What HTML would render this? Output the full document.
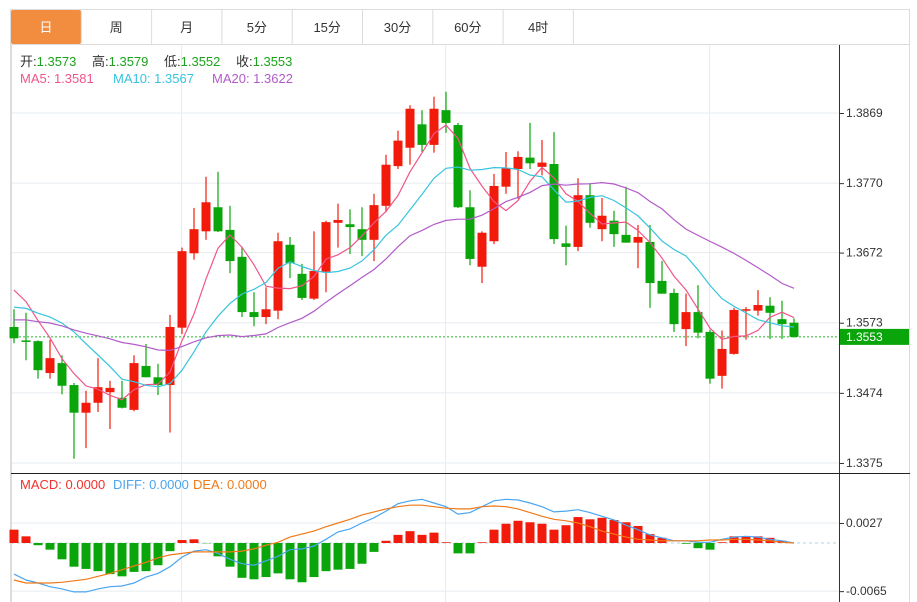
<!DOCTYPE html>
<html><head><meta charset="utf-8">
<style>
body{margin:0;background:#fff;font-family:"Liberation Sans","Noto Sans CJK SC",sans-serif;}
#wrap{position:relative;width:917px;height:602px;overflow:hidden;}
svg{position:absolute;left:0;top:0;}
</style></head><body>
<div id="wrap">
<svg id="s" width="917" height="602" xmlns="http://www.w3.org/2000/svg"></svg>
</div>
<script>
// ---- data ----
const tabs=["日","周","月","5分","15分","30分","60分","4时"];
const opens=[1.3567,1.3548,1.3547,1.3502,1.3516,1.3485,1.3446,1.3460,1.3475,1.3467,1.3450,1.3512,1.3496,1.3485,1.3566,1.3671,1.3702,1.3736,1.3704,1.3666,1.3588,1.3581,1.3590,1.3683,1.3642,1.3607,1.3645,1.3714,1.3712,1.3705,1.3690,1.3738,1.3794,1.3820,1.3853,1.3824,1.3873,1.3852,1.3736,1.3652,1.3688,1.3765,1.3790,1.3806,1.3793,1.3797,1.3685,1.3680,1.3753,1.3705,1.3717,1.3697,1.3686,1.3687,1.3632,1.3615,1.3564,1.3588,1.3560,1.3498,1.3529,1.3590,1.3590,1.3597,1.3578,1.3573];
const highs=[1.3592,1.3587,1.3548,1.3549,1.3527,1.3488,1.3477,1.3523,1.3491,1.3491,1.3527,1.3543,1.3515,1.3584,1.3679,1.3735,1.3779,1.3786,1.3738,1.3680,1.3616,1.3623,1.3700,1.3694,1.3656,1.3702,1.3717,1.3741,1.3733,1.3736,1.3755,1.3810,1.3844,1.3880,1.3873,1.3892,1.3899,1.3855,1.3760,1.3702,1.3783,1.3814,1.3815,1.3855,1.3831,1.3842,1.3710,1.3777,1.3770,1.3749,1.3731,1.3765,1.3711,1.3711,1.3660,1.3621,1.3614,1.3626,1.3563,1.3562,1.3594,1.3595,1.3619,1.3609,1.3604,1.3579];
const lows=[1.3544,1.3520,1.3494,1.3494,1.3472,1.3381,1.3396,1.3447,1.3423,1.3452,1.3448,1.3496,1.3471,1.3418,1.3557,1.3662,1.3690,1.3701,1.3643,1.3581,1.3568,1.3571,1.3578,1.3636,1.3605,1.3605,1.3616,1.3679,1.3670,1.3667,1.3660,1.3729,1.3790,1.3796,1.3814,1.3813,1.3841,1.3735,1.3654,1.3629,1.3684,1.3755,1.3748,1.3790,1.3781,1.3684,1.3654,1.3674,1.3707,1.3688,1.3680,1.3686,1.3650,1.3594,1.3614,1.3560,1.3540,1.3551,1.3487,1.3480,1.3528,1.3549,1.3583,1.3550,1.3550,1.3552];
const closes=[1.3551,1.3547,1.3506,1.3523,1.3484,1.3446,1.3460,1.3482,1.3481,1.3453,1.3516,1.3496,1.3485,1.3567,1.3674,1.3705,1.3743,1.3702,1.3660,1.3588,1.3581,1.3592,1.3688,1.3657,1.3608,1.3646,1.3715,1.3718,1.3708,1.3690,1.3739,1.3796,1.3830,1.3875,1.3824,1.3875,1.3855,1.3736,1.3663,1.3700,1.3766,1.3791,1.3807,1.3798,1.3799,1.3691,1.3680,1.3753,1.3714,1.3724,1.3698,1.3686,1.3694,1.3629,1.3614,1.3571,1.3588,1.3559,1.3494,1.3536,1.3591,1.3592,1.3598,1.3587,1.3571,1.3553];
const priorCloses=[1.3548,1.3555,1.3562,1.3566,1.3558,1.3552,1.3560,1.3563,1.3557,1.3569,1.3565,1.3574,1.3578,1.3568,1.3570,1.3628,1.3640,1.3645,1.3631];
const macdE4=[18,9,-3,-9,-22,-32,-35,-38,-42,-45,-39,-38,-30,-11,4,5,-0.4,-18,-32,-47,-49,-46,-41,-49,-53,-46,-38,-36,-35,-28,-12,3,11,16,11,14,1,-14,-14,1,18,26,30,28,26,18,24,35,32,34,31,28,23,12,7,0,-1,-7,-9,1,9,9,9,7,3,0];
const diffE4=[-42,-50,-54,-59,-62,-66,-66,-62,-59,-58,-54,-46,-41,-32,-19,-11,-9,-14,-22,-28,-30,-24,-18,-9,-8,-4,5,15,19,27,34,43,53,57,59,54,49,39,41,49,57,59,58,54,49,42,43,45,41,36,31,24,18,11,7,3,3,1,1,5,8,9,8,5,3,0];
const deaE4=[-50,-54,-54,-54,-53,-51,-49,-45,-41,-36,-31,-26,-20,-16,-14,-12,-12,-12,-12,-11,-8,-3,1,8,12,16,22,27,32,38,42,46,49,51,51,49,47,46,46,49,50,49,46,41,36,32,30,27,22,16,12,8,5,4,3,3,3,3,4,4,5,5,4,3,1,0];
const priceTicks=[1.3869,1.3770,1.3672,1.3573,1.3474,1.3375];
const macdTicks=[0.0027,-0.0065];

// ---- scales ----
const NS="http://www.w3.org/2000/svg";
const svg=document.getElementById('s');
const X0=14, STEP=12;
const xAt=i=>X0+i*STEP;
const yP=p=>113+(1.3869-p)*(350/0.0494);
const yM=v=>543-(v/1e4)*(20/0.0027);
function el(tag,attrs,parent){const e=document.createElementNS(NS,tag);for(const k in attrs)e.setAttribute(k,attrs[k]);(parent||svg).appendChild(e);return e;}

// frame
const fr=el('g',{});


el('rect',{x:10.5,y:9.5,width:899,height:600,fill:'none',stroke:'#dcdcdc'},fr);
el('line',{x1:10,y1:44.5,x2:910,y2:44.5,stroke:'#dcdcdc'},fr);
// tabs
tabs.forEach((t,i)=>{
  const g=el('g',{});
  
  
  const x=11+i*70.3;
  if(i===0) el('rect',{x:x,y:10,width:70,height:34,fill:'#f28c3e',rx:2},g);
  el('line',{x1:x+70.3,y1:10,x2:x+70.3,y2:44,stroke:'#dcdcdc'},g);
  const tx=el('text',{x:x+35,y:32,'text-anchor':'middle','font-size':13,fill:i===0?'#fff':'#333'},g);
  tx.textContent=t;
});
// grid
const grid=el('g',{});


priceTicks.forEach(p=>el('line',{x1:11,y1:yP(p),x2:839,y2:yP(p),stroke:'#e6ecf0'},grid));
[181,445,709].forEach(x=>el('line',{x1:x+0.5,y1:45,x2:x+0.5,y2:602,stroke:'#e6ecf0'},grid));
macdTicks.forEach(v=>el('line',{x1:11,y1:yM(v*1e4),x2:839,y2:yM(v*1e4),stroke:'#e6ecf0'},grid));
el('line',{x1:11.5,y1:45,x2:11.5,y2:602,stroke:'#dcdcdc'},grid);
el('line',{x1:839.5,y1:45,x2:839.5,y2:602,stroke:'#333'},grid);
el('line',{x1:11,y1:473.5,x2:910,y2:473.5,stroke:'#222'},grid);
// price axis
const ax=el('g',{});


priceTicks.forEach(p=>{
  el('line',{x1:839,y1:yP(p)+0.5,x2:844,y2:yP(p)+0.5,stroke:'#333'},ax);
  const t=el('text',{x:846,y:yP(p)+4,'font-size':12,fill:'#333'},ax);t.textContent=p.toFixed(4);
});
const ax2=el('g',{});


macdTicks.forEach(v=>{
  const y=yM(v*1e4);
  el('line',{x1:839,y1:y+0.5,x2:844,y2:y+0.5,stroke:'#333'},ax2);
  const t=el('text',{x:846,y:y+4,'font-size':12,fill:'#333'},ax2);t.textContent=v.toFixed(4);
});
// info text
function info(y,parts,name){
  const t=el('text',{y:y,'font-size':13});
  
  
  parts.forEach(([s,c,x])=>{const a={fill:c};if(x!==undefined)a.x=x;const sp=el('tspan',a,t);sp.textContent=s;});
}
const last=closes.length-1;
info(66,[["开:","#333",20],[opens[last].toFixed(4),"#1aa31a"],["高:","#333",92],[highs[last].toFixed(4),"#1aa31a"],["低:","#333",164],[lows[last].toFixed(4),"#1aa31a"],["收:","#333",236],[closes[last].toFixed(4),"#1aa31a"]],'ohlc-legend');
info(83,[["MA5: 1.3581","#f0558a",20],["MA10: 1.3567","#38c4dd",113],["MA20: 1.3622","#b25bc9",212]],'ma-legend');
info(489,[["MACD: 0.0000","#f2322e",20],["DIFF: 0.0000","#4aa5f0",113],["DEA: 0.0000","#f07a1a",193]],'macd-legend');

// current price line
el('line',{x1:11,y1:yP(closes[last]),x2:839,y2:yP(closes[last]),stroke:'#2bb52b','stroke-dasharray':'2,2'});
const cp=el('g',{});


el('rect',{x:840,y:yP(closes[last])-8,width:69,height:16,fill:'#0aa50a'},cp);
const cpt=el('text',{x:846,y:yP(closes[last])+4,'font-size':12,fill:'#fff'},cp);cpt.textContent=closes[last].toFixed(4);

// candles
const cg=el('g',{});


closes.forEach((c,i)=>{
  const o=opens[i],up=c>=o,col=up?'#f21a0a':'#0aa50a';
  const g=el('g',{},cg);
  
  
  const x=xAt(i);
  el('line',{x1:x,y1:yP(highs[i]),x2:x,y2:yP(lows[i]),stroke:col,'stroke-width':1.2},g);
  const top=yP(Math.max(o,c)),bot=yP(Math.min(o,c));
  el('rect',{x:x-4.5,y:top,width:9,height:Math.max(1.5,bot-top),fill:col},g);
});
// moving averages
const all=priorCloses.concat(closes);
function ma(n){return closes.map((_,i)=>{const j=i+priorCloses.length;let s=0;for(let k=j-n+1;k<=j;k++)s+=all[k];return s/n;});}
[[5,'#f0558a','ma5-line'],[10,'#38c4dd','ma10-line'],[20,'#b25bc9','ma20-line']].forEach(([n,col,name])=>{
  const v=ma(n);
  const p=el('polyline',{points:v.map((m,i)=>xAt(i)+','+yP(m).toFixed(1)).join(' '),fill:'none',stroke:col,'stroke-width':1.2});
  
  
});
// MACD
el('line',{x1:11,y1:543,x2:839,y2:543,stroke:'#a8d4e8','stroke-dasharray':'3,3'});
const mg=el('g',{});


macdE4.forEach((v,i)=>{
  const y=yM(v);
  const r=el('rect',{x:xAt(i)-4.5,y:Math.min(y,543),width:9,height:Math.abs(y-543),fill:v>=0?'#f21a0a':'#0aa50a'},mg);
  
  
});
[[diffE4,'#4aa5f0','diff-line'],[deaE4,'#f07a1a','dea-line']].forEach(([arr,col,name])=>{
  const p=el('polyline',{points:arr.map((v,i)=>xAt(i)+','+yM(v).toFixed(1)).join(' '),fill:'none',stroke:col,'stroke-width':1.2});
  
  
});
</script>
</body></html>
